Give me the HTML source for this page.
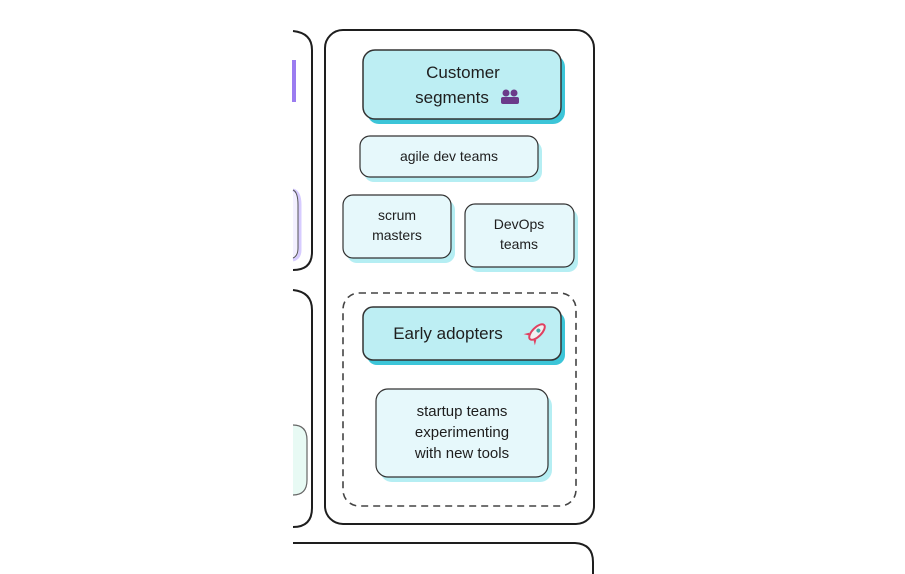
<!DOCTYPE html>
<html><head><meta charset="utf-8"><style>
html,body{margin:0;padding:0;background:#fff;width:905px;height:574px;overflow:hidden}
text{font-family:"Liberation Sans",sans-serif;fill:#1e1e1e;text-anchor:middle}
</style></head><body>
<svg width="905" height="574" viewBox="0 0 905 574" xmlns="http://www.w3.org/2000/svg">
<!-- left partial frames -->
<path d="M293 31 Q312 33 312 50 L312 252 Q312 270 293 270" fill="none" stroke="#1e1e1e" stroke-width="2"/>
<rect x="292" y="60" width="4" height="42" fill="#9b7cf0"/>
<path d="M293 190 Q300 192 300 205 L300 250 Q300 258 293 260" fill="#f3f0ff" stroke="#d7ccff" stroke-width="3"/>
<path d="M293 190 Q298 192 298 205 L298 248 Q298 256 293 258" fill="none" stroke="#555" stroke-width="1"/>
<path d="M293 290 Q312 292 312 310 L312 508 Q312 527 293 527" fill="none" stroke="#1e1e1e" stroke-width="2"/>
<path d="M293 425 Q307 425 307 440 L307 480 Q307 495 293 495" fill="#e8faf4" stroke="#666" stroke-width="1.2"/>
<!-- bottom frame -->
<path d="M293 543 L575 543 Q593 544 593 562 L593 574" fill="none" stroke="#1e1e1e" stroke-width="2"/>
<!-- main frame -->
<rect x="325" y="30" width="269" height="494" rx="18" fill="none" stroke="#1e1e1e" stroke-width="2"/>
<!-- Customer segments -->
<rect x="367" y="55" width="198" height="69" rx="12" fill="#3cc5d8"/>
<rect x="363" y="50" width="198" height="69" rx="12" fill="#bdeef3" stroke="#333" stroke-width="1.5"/>
<text x="463" y="78" font-size="17">Customer</text>
<text x="452" y="103" font-size="17">segments</text>
<g fill="#6b3a8a"><circle cx="506" cy="93" r="3.5"/><circle cx="514" cy="93" r="3.5"/><rect x="501" y="97" width="18" height="7" rx="2"/></g>
<!-- agile -->
<rect x="364" y="141" width="178" height="41" rx="10" fill="#b5eef3"/>
<rect x="360" y="136" width="178" height="41" rx="10" fill="#e6f8fb" stroke="#333" stroke-width="1.2"/>
<text x="449" y="161" font-size="14">agile dev teams</text>
<!-- scrum -->
<rect x="347" y="200" width="108" height="63" rx="10" fill="#b5eef3"/>
<rect x="343" y="195" width="108" height="63" rx="10" fill="#e6f8fb" stroke="#333" stroke-width="1.2"/>
<text x="397" y="220" font-size="14">scrum</text>
<text x="397" y="240" font-size="14">masters</text>
<!-- DevOps -->
<rect x="469" y="209" width="109" height="63" rx="10" fill="#b5eef3"/>
<rect x="465" y="204" width="109" height="63" rx="10" fill="#e6f8fb" stroke="#333" stroke-width="1.2"/>
<text x="519" y="229" font-size="14">DevOps</text>
<text x="519" y="249" font-size="14">teams</text>
<!-- dashed group -->
<rect x="343" y="293" width="233" height="213" rx="16" fill="none" stroke="#444" stroke-width="1.6" stroke-dasharray="7 5"/>
<!-- Early adopters -->
<rect x="367" y="312" width="198" height="53" rx="10" fill="#3cc5d8"/>
<rect x="363" y="307" width="198" height="53" rx="10" fill="#bdeef3" stroke="#333" stroke-width="1.5"/>
<text x="448" y="339" font-size="17">Early adopters</text>
<g transform="translate(537,332) rotate(45)"><ellipse cx="0" cy="0" rx="4.5" ry="10" fill="#f0f0f0" stroke="#e04060" stroke-width="2"/><circle cx="0" cy="-2" r="2" fill="#4aa"/><path d="M-5 6 L-8 11 L-3 8 Z M5 6 L8 11 L3 8 Z" fill="#e04060"/></g>
<!-- startup -->
<rect x="380" y="394" width="172" height="88" rx="12" fill="#b5eef3"/>
<rect x="376" y="389" width="172" height="88" rx="12" fill="#e6f8fb" stroke="#333" stroke-width="1.2"/>
<text x="462" y="416" font-size="15">startup teams</text>
<text x="462" y="437" font-size="15">experimenting</text>
<text x="462" y="458" font-size="15">with new tools</text>
</svg>
</body></html>
